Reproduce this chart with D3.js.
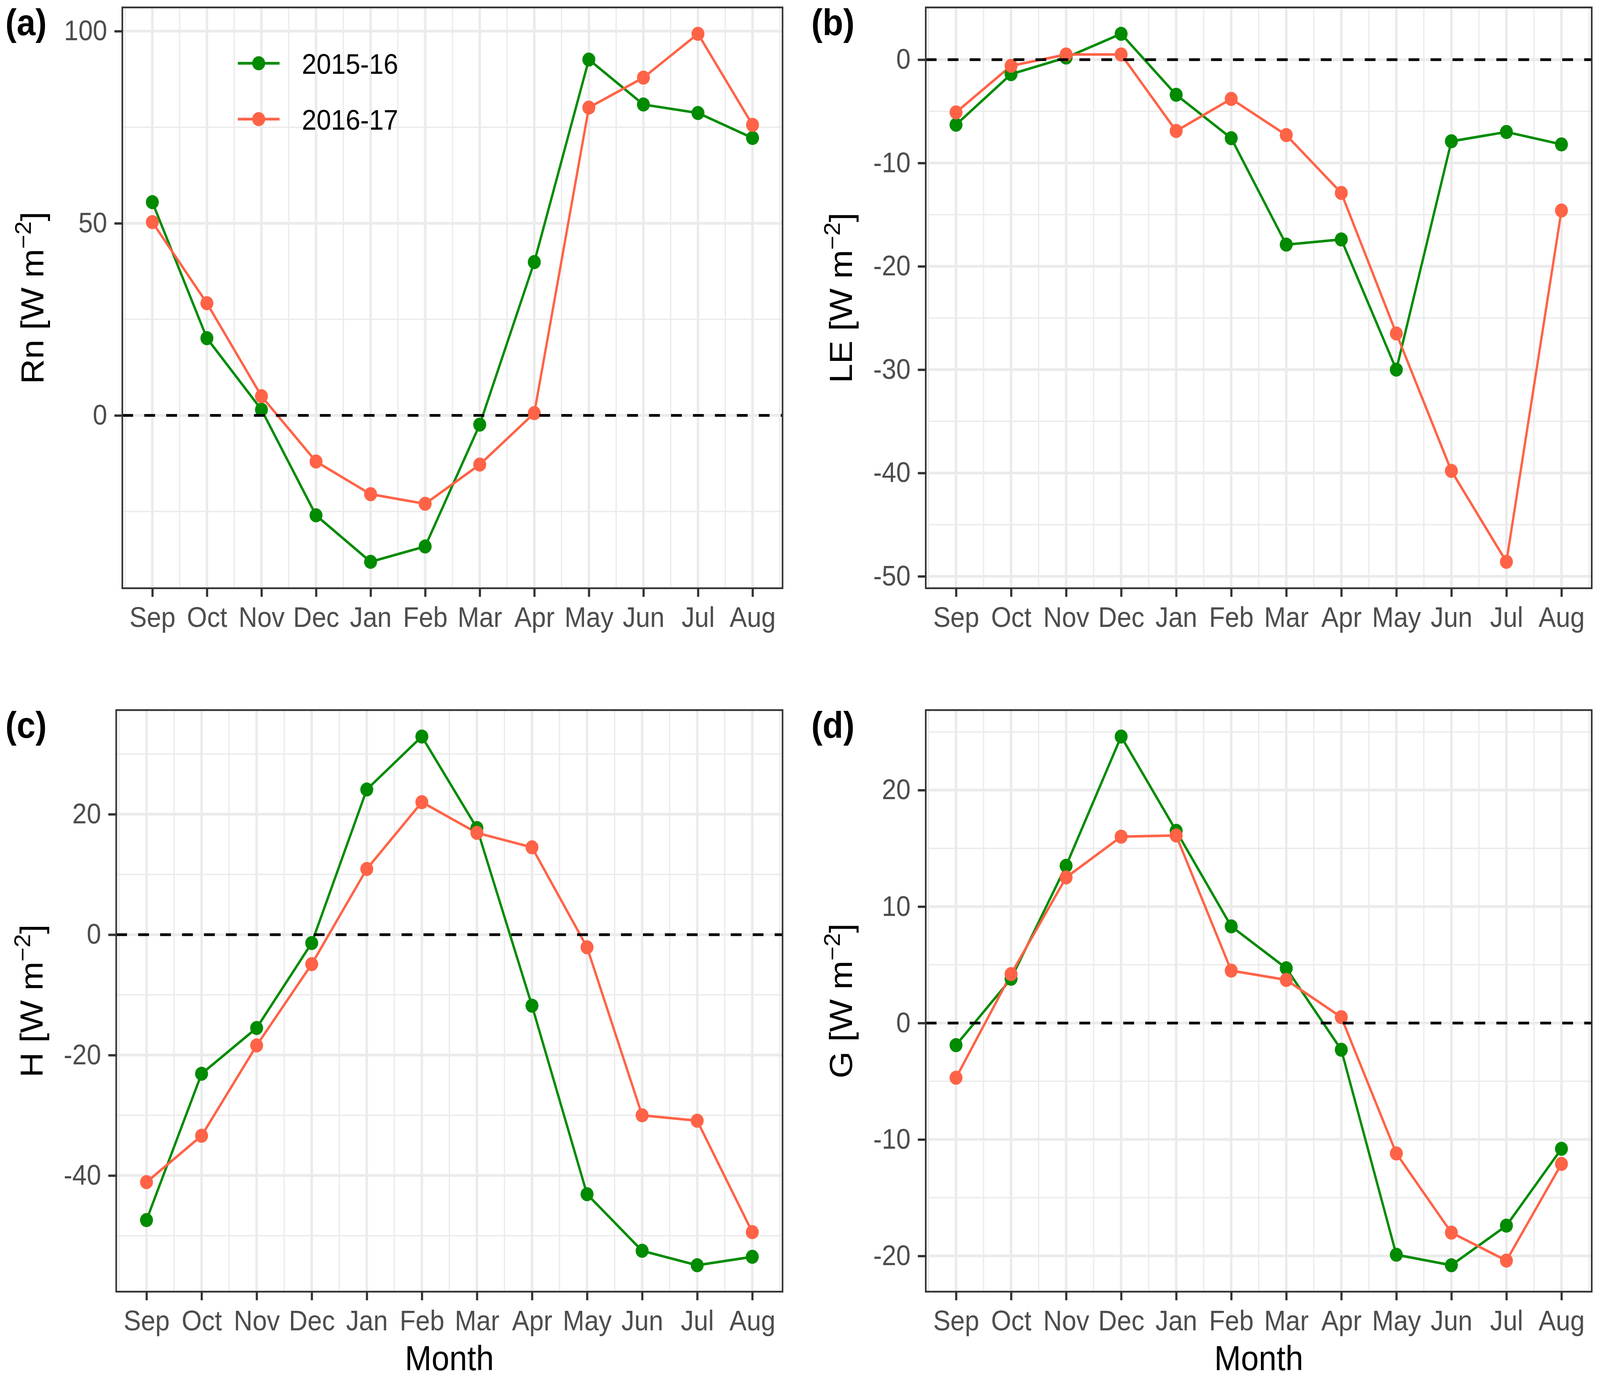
<!DOCTYPE html>
<html>
<head>
<meta charset="utf-8">
<script src="https://cdn.jsdelivr.net/npm/d3@7"></script>
<style>
  html, body { margin: 0; padding: 0; background: #fff; overflow: hidden; }
  #chart svg { display: block; width: 100vw; height: 100vh; }
  svg text { font-family: "Liberation Sans", Arial, sans-serif; }
</style>
</head>
<body>
<div id="chart"></div>
<script>
// month order of the hydrological year
const months = ["Sep", "Oct", "Nov", "Dec", "Jan", "Feb", "Mar", "Apr", "May", "Jun", "Jul", "Aug"];
const seasons = ["2015-16", "2016-17"];

// (a) net radiation
const rn1516 = [55.5, 20.1, 1.5, -26.0, -38.1, -34.1, -2.4, 39.9, 92.6, 80.9, 78.7, 72.2];
const rn1617 = [50.3, 29.2, 5.0, -12.0, -20.5, -23.0, -12.8, 0.6, 80.1, 87.9, 99.3, 75.6];
// (b) latent heat
const le1516 = [-6.3, -1.4, 0.2, 2.5, -3.4, -7.6, -17.9, -17.4, -30.0, -7.9, -7.0, -8.2];
const le1617 = [-5.1, -0.6, 0.5, 0.5, -6.9, -3.8, -7.3, -12.9, -26.5, -39.8, -48.6, -14.6];
// (c) sensible heat
const h1516 = [-47.4, -23.1, -15.5, -1.4, 24.1, 32.9, 17.7, -11.8, -43.1, -52.5, -54.9, -53.5];
const h1617 = [-41.1, -33.4, -18.4, -4.9, 10.9, 22.0, 16.9, 14.5, -2.1, -30.0, -30.9, -49.4];
// (d) ground heat
const g1516 = [-1.9, 3.8, 13.5, 24.6, 16.5, 8.3, 4.7, -2.3, -19.9, -20.8, -17.4, -10.8];
const g1617 = [-4.7, 4.2, 12.5, 16.0, 16.1, 4.5, 3.7, 0.5, -11.2, -18.0, -20.4, -12.1];

const rnTicks = [0, 50, 100];
const leTicks = [-50, -40, -30, -20, -10, 0];
const hTicks = [-40, -20, 0, 20];
const gTicks = [-20, -10, 0, 10, 20];

const colors = ["#008B00", "#FF6347"];
const W = 4447, H = 3528;

// stretch to whatever the window really is
const svg = d3.select("#chart").append("svg")
    .attr("viewBox", `0 0 ${W} ${H}`)
    .attr("preserveAspectRatio", "none");
svg.append("rect").attr("width", W).attr("height", H).attr("fill", "#fff");

const panels = [
    { tag: "(a)", name: "Rn", series: [rn1516, rn1617], ticks: rnTicks,
      left: 340, right: 2175, top: 19, bottom: 1506, titleX: 120, tagX: 15, legend: true, month: false },
    { tag: "(b)", name: "LE", series: [le1516, le1617], ticks: leTicks,
      left: 2573, right: 4424, top: 19, bottom: 1506, titleX: 2368, tagX: 2255, legend: false, month: false },
    { tag: "(c)", name: "H", series: [h1516, h1617], ticks: hTicks,
      left: 323, right: 2175, top: 1818, bottom: 3307, titleX: 118, tagX: 15, legend: false, month: true },
    { tag: "(d)", name: "G", series: [g1516, g1617], ticks: gTicks,
      left: 2573, right: 4424, top: 1818, bottom: 3307, titleX: 2368, tagX: 2255, legend: false, month: true }
];

function drawPanel(p) {
    const g = svg.append("g");
    const idx = d3.range(1, months.length + 1);

    const x = d3.scaleLinear()
        .domain([1 - 0.55, months.length + 0.55])
        .range([p.left, p.right]);

    const all = p.series.flat();
    const lo = d3.min(all), hi = d3.max(all), pad = (hi - lo) * 0.05;
    const y = d3.scaleLinear()
        .domain([lo - pad, hi + pad])
        .range([p.bottom, p.top]);

    // minor grid: halfway between major breaks
    const step = p.ticks[1] - p.ticks[0];
    const yMinor = d3.range(p.ticks[0] - step / 2, hi + pad, step).filter(v => v > lo - pad && v < hi + pad);
    const xMinor = d3.range(0.5, months.length + 1, 1);

    g.selectAll(".xminor").data(xMinor).enter().append("line")
        .attr("x1", d => x(d)).attr("x2", d => x(d))
        .attr("y1", p.top).attr("y2", p.bottom)
        .attr("stroke", "#EBEBEB").attr("stroke-width", 3.5);
    g.selectAll(".yminor").data(yMinor).enter().append("line")
        .attr("x1", p.left).attr("x2", p.right)
        .attr("y1", d => y(d)).attr("y2", d => y(d))
        .attr("stroke", "#EBEBEB").attr("stroke-width", 3.5);
    g.selectAll(".xmajor").data(idx).enter().append("line")
        .attr("x1", d => x(d)).attr("x2", d => x(d))
        .attr("y1", p.top).attr("y2", p.bottom)
        .attr("stroke", "#EBEBEB").attr("stroke-width", 7);
    g.selectAll(".ymajor").data(p.ticks).enter().append("line")
        .attr("x1", p.left).attr("x2", p.right)
        .attr("y1", d => y(d)).attr("y2", d => y(d))
        .attr("stroke", "#EBEBEB").attr("stroke-width", 7);

    // lines first, then points (like ggplot layers)
    const line = d3.line().x((d, i) => x(i + 1)).y(d => y(d));
    p.series.forEach((s, k) => {
        g.append("path").datum(s)
            .attr("d", line)
            .attr("fill", "none")
            .attr("stroke", colors[k])
            .attr("stroke-width", 6.5)
            .attr("stroke-linejoin", "round");
    });
    p.series.forEach((s, k) => {
        g.selectAll(".pt" + k).data(s).enter().append("circle")
            .attr("cx", (d, i) => x(i + 1))
            .attr("cy", d => y(d))
            .attr("r", 18)
            .attr("fill", colors[k]);
    });

    // zero reference
    g.append("line")
        .attr("x1", p.left).attr("x2", p.right)
        .attr("y1", y(0)).attr("y2", y(0))
        .attr("stroke", "#000").attr("stroke-width", 7)
        .attr("stroke-dasharray", "30,31");

    // axes
    const xAxis = g.append("g")
        .attr("transform", `translate(0,${p.bottom})`)
        .call(d3.axisBottom(x).tickValues(idx).tickFormat(d => months[d - 1])
            .tickSize(22).tickPadding(26));
    const yAxis = g.append("g")
        .attr("transform", `translate(${p.left},0)`)
        .call(d3.axisLeft(y).tickValues(p.ticks).tickFormat(d => String(d))
            .tickSize(22).tickPadding(20));
    [xAxis, yAxis].forEach(a => {
        a.select(".domain").remove();
        a.selectAll(".tick line").attr("stroke", "#333333").attr("stroke-width", 6);
        a.selectAll(".tick text")
            .attr("fill", "#4D4D4D")
            .style("font-size", "72px")
            .style("font-family", "'Liberation Sans', Arial, sans-serif");
    });

    // panel border
    g.append("rect")
        .attr("x", p.left).attr("y", p.top)
        .attr("width", p.right - p.left).attr("height", p.bottom - p.top)
        .attr("fill", "none").attr("stroke", "#333333").attr("stroke-width", 4.5);

    // y title
    const cy = (p.top + p.bottom) / 2;
    const t = g.append("text")
        .attr("transform", `translate(${p.titleX},${cy}) rotate(-90)`)
        .attr("text-anchor", "middle")
        .style("font-size", "89px")
        .attr("fill", "#000");
    t.append("tspan").text(p.name + " [W m");
    t.append("tspan").attr("dy", -34).style("font-size", "62px").text("\u22122");
    t.append("tspan").attr("dy", 34).text("]");

    // tag
    g.append("text")
        .attr("x", p.tagX).attr("y", p.top + 71)
        .style("font-size", "94px").style("font-weight", "bold")
        .attr("fill", "#000")
        .text(p.tag);

    if (p.month) {
        g.append("text")
            .attr("x", (p.left + p.right) / 2).attr("y", 3508)
            .attr("text-anchor", "middle")
            .style("font-size", "89px")
            .attr("fill", "#000")
            .text("Month");
    }

    if (p.legend) {
        const lg = g.append("g");
        const rows = lg.selectAll("g").data(seasons).enter().append("g")
            .attr("transform", (d, i) => `translate(0,${162 + i * 143})`);
        rows.append("line")
            .attr("x1", 661).attr("x2", 777)
            .attr("stroke", (d, i) => colors[i]).attr("stroke-width", 7);
        rows.append("circle")
            .attr("cx", 719).attr("r", 18)
            .attr("fill", (d, i) => colors[i]);
        rows.append("text")
            .attr("x", 839).attr("y", 27)
            .style("font-size", "73px")
            .attr("fill", "#000")
            .text(d => d);
    }
}

panels.forEach(drawPanel);
</script>
</body>
</html>
